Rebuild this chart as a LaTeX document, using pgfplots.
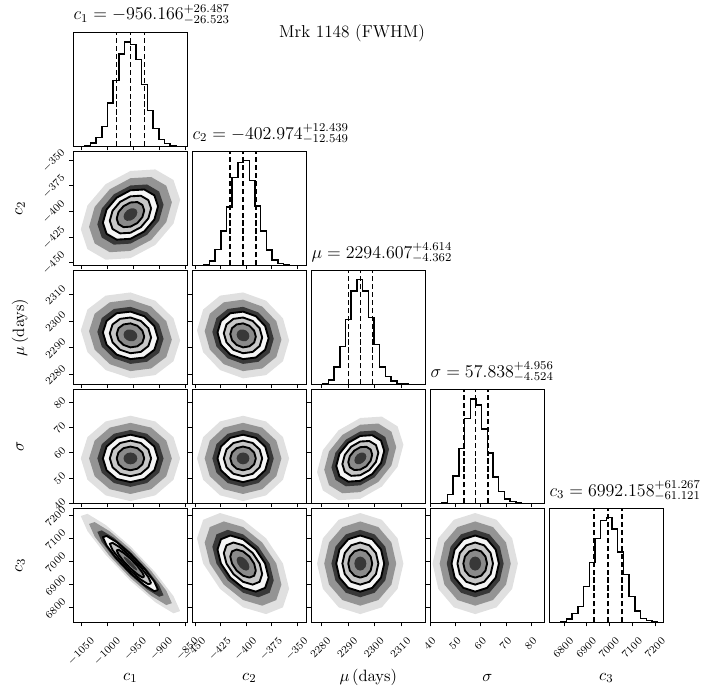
\documentclass[border=0pt]{standalone}
\usepackage{pgfplots}
\usepackage{pgfplotstable}
\pgfplotsset{compat=1.18}

\definecolor{cA}{gray}{0.88}
\definecolor{cB}{gray}{0.58}
\definecolor{cC}{gray}{0.22}
\definecolor{cD}{gray}{0.96}
\definecolor{cE}{gray}{0.78}
\definecolor{cF}{gray}{0.54}
\definecolor{cG}{gray}{0.22}

% ---- 1D histograms (bin edge, height; heights in the panel's own units, top = 333)
\pgfplotstableread{
x y
-1066 0
-1055.05 0
-1044.1 3
-1033.15 10
-1022.2 25
-1011.25 58
-1000.3 127
-989.35 193
-978.4 270
-967.45 305
-956.5 297
-945.55 253
-934.6 180
-923.65 105
-912.7 52
-901.75 20
-890.8 8
-879.85 3
-868.9 0
-857.95 0
-847 0
}\hA
\pgfplotstableread{
x y
-452.6 0
-447.03 0
-441.46 3
-435.89 13
-430.32 47
-424.75 100
-419.18 170
-413.61 257
-408.04 300
-402.47 307
-396.9 247
-391.33 173
-385.76 100
-380.19 45
-374.62 15
-369.05 5
-363.48 2
-357.91 0
-352.34 0
-346.77 0
-341.2 0
}\hB
\pgfplotstableread{
x y
2276.25 0
2278.39 0
2280.53 3
2282.66 13
2284.8 50
2286.94 110
2289.08 190
2291.21 273
2293.35 307
2295.49 273
2297.63 195
2299.76 117
2301.9 50
2304.04 23
2306.18 10
2308.31 3
2310.45 1
2312.59 0
2314.73 0
2316.86 0
2319 0
}\hC
\pgfplotstableread{
x y
40 0
42.26 0
44.52 2
46.78 25
49.04 80
51.3 160
53.56 247
55.82 305
58.08 287
60.34 217
62.6 147
64.86 77
67.12 35
69.38 12
71.64 5
73.9 2
76.16 0
78.42 0
80.68 0
82.94 0
85.2 0
}\hD
\pgfplotstableread{
x y
6736 0
6760.85 0
6785.7 3
6810.55 10
6835.4 25
6860.25 47
6885.1 105
6909.95 175
6934.8 245
6959.65 297
6984.5 307
7009.35 273
7034.2 205
7059.05 140
7083.9 75
7108.75 33
7133.6 12
7158.45 5
7183.3 2
7208.15 0
7233 0
}\hE

% ---- 2D density levels: a,b,c = scatter cloud; d,e,f,g = contour levels
\pgfplotstableread{
xa xb xc xd xe xf xg ya yb yc yd ye yf yg
-860.8 -876.7 -892.6 -903.2 -916.5 -929.7 -943.0 -388.6 -391.0 -393.4 -395.0 -397.0 -399.0 -401.0
-873.6 -887.4 -901.1 -910.3 -921.8 -933.3 -944.7 -369.2 -374.8 -380.5 -384.2 -388.9 -393.6 -398.3
-908.5 -916.5 -924.4 -929.7 -936.3 -942.9 -949.6 -358.9 -366.3 -373.6 -378.5 -384.6 -390.8 -396.9
-956.2 -956.2 -956.2 -956.2 -956.2 -956.2 -956.2 -360.4 -367.5 -374.6 -379.3 -385.2 -391.2 -397.1
-1003.9 -995.9 -988.0 -982.7 -976.1 -969.5 -962.8 -373.3 -378.3 -383.2 -386.5 -390.6 -394.8 -398.9
-1038.8 -1025.0 -1011.3 -1002.1 -990.6 -979.1 -967.7 -394.1 -395.6 -397.1 -398.1 -399.3 -400.5 -401.8
-1051.6 -1035.7 -1019.8 -1009.2 -995.9 -982.7 -969.5 -417.4 -415.0 -412.6 -411.0 -409.0 -407.0 -405.0
-1038.8 -1025.0 -1011.3 -1002.1 -990.6 -979.1 -967.7 -436.8 -431.2 -425.5 -421.8 -417.1 -412.4 -407.7
-1003.9 -995.9 -988.0 -982.7 -976.1 -969.5 -962.8 -447.1 -439.8 -432.4 -427.5 -421.4 -415.3 -409.1
-956.2 -956.2 -956.2 -956.2 -956.2 -956.2 -956.2 -445.6 -438.5 -431.4 -426.7 -420.8 -414.8 -408.9
-908.5 -916.5 -924.4 -929.7 -936.3 -942.9 -949.6 -432.7 -427.8 -422.8 -419.5 -415.4 -411.3 -407.1
-873.6 -887.4 -901.1 -910.3 -921.8 -933.3 -944.7 -411.9 -410.4 -408.9 -407.9 -406.7 -405.5 -404.2
-860.8 -876.7 -892.6 -903.2 -916.5 -929.7 -943.0 -388.6 -391.0 -393.4 -395.0 -397.0 -399.0 -401.0
}\tabBA
\pgfplotstableread{
xa xb xc xd xe xf xg ya yb yc yd ye yf yg
-860.8 -876.7 -892.6 -903.2 -916.5 -929.7 -943.0 2292.7 2293.0 2293.3 2293.5 2293.8 2294.1 2294.3
-873.6 -887.4 -901.1 -910.3 -921.8 -933.3 -944.7 2301.0 2299.9 2298.8 2298.1 2297.3 2296.4 2295.5
-908.5 -916.5 -924.4 -929.7 -936.3 -942.9 -949.6 2307.6 2305.4 2303.2 2301.8 2300.0 2298.2 2296.4
-956.2 -956.2 -956.2 -956.2 -956.2 -956.2 -956.2 2310.7 2308.0 2305.3 2303.5 2301.3 2299.1 2296.8
-1003.9 -995.9 -988.0 -982.7 -976.1 -969.5 -962.8 2309.5 2307.0 2304.5 2302.9 2300.8 2298.7 2296.7
-1038.8 -1025.0 -1011.3 -1002.1 -990.6 -979.1 -967.7 2304.3 2302.7 2301.1 2300.0 2298.7 2297.3 2296.0
-1051.6 -1035.7 -1019.8 -1009.2 -995.9 -982.7 -969.5 2296.5 2296.2 2295.9 2295.7 2295.4 2295.1 2294.9
-1038.8 -1025.0 -1011.3 -1002.1 -990.6 -979.1 -967.7 2288.3 2289.3 2290.4 2291.1 2292.0 2292.8 2293.7
-1003.9 -995.9 -988.0 -982.7 -976.1 -969.5 -962.8 2281.6 2283.8 2286.0 2287.4 2289.2 2291.0 2292.8
-956.2 -956.2 -956.2 -956.2 -956.2 -956.2 -956.2 2278.5 2281.2 2283.9 2285.7 2287.9 2290.1 2292.4
-908.5 -916.5 -924.4 -929.7 -936.3 -942.9 -949.6 2279.7 2282.2 2284.7 2286.3 2288.4 2290.5 2292.5
-873.6 -887.4 -901.1 -910.3 -921.8 -933.3 -944.7 2284.9 2286.5 2288.1 2289.2 2290.6 2291.9 2293.3
-860.8 -876.7 -892.6 -903.2 -916.5 -929.7 -943.0 2292.7 2293.0 2293.3 2293.5 2293.8 2294.1 2294.3
}\tabCA
\pgfplotstableread{
xa xb xc xd xe xf xg ya yb yc yd ye yf yg
-358.0 -365.5 -373.0 -378.0 -384.3 -390.5 -396.8 2292.7 2293.0 2293.3 2293.5 2293.8 2294.1 2294.3
-364.0 -370.5 -377.0 -381.4 -386.8 -392.2 -397.6 2301.0 2299.9 2298.8 2298.1 2297.3 2296.4 2295.5
-380.5 -384.3 -388.0 -390.5 -393.6 -396.8 -399.9 2307.6 2305.4 2303.2 2301.8 2300.0 2298.2 2296.4
-403.0 -403.0 -403.0 -403.0 -403.0 -403.0 -403.0 2310.7 2308.0 2305.3 2303.5 2301.3 2299.1 2296.8
-425.5 -421.8 -418.0 -415.5 -412.4 -409.3 -406.1 2309.5 2307.0 2304.5 2302.9 2300.8 2298.7 2296.7
-442.0 -435.5 -429.0 -424.6 -419.2 -413.8 -408.4 2304.3 2302.7 2301.1 2300.0 2298.7 2297.3 2296.0
-448.0 -440.5 -433.0 -428.0 -421.8 -415.5 -409.3 2296.5 2296.2 2295.9 2295.7 2295.4 2295.1 2294.9
-442.0 -435.5 -429.0 -424.6 -419.2 -413.8 -408.4 2288.3 2289.3 2290.4 2291.1 2292.0 2292.8 2293.7
-425.5 -421.8 -418.0 -415.5 -412.4 -409.3 -406.1 2281.6 2283.8 2286.0 2287.4 2289.2 2291.0 2292.8
-403.0 -403.0 -403.0 -403.0 -403.0 -403.0 -403.0 2278.5 2281.2 2283.9 2285.7 2287.9 2290.1 2292.4
-380.5 -384.3 -388.0 -390.5 -393.6 -396.8 -399.9 2279.7 2282.2 2284.7 2286.3 2288.4 2290.5 2292.5
-364.0 -370.5 -377.0 -381.4 -386.8 -392.2 -397.6 2284.9 2286.5 2288.1 2289.2 2290.6 2291.9 2293.3
-358.0 -365.5 -373.0 -378.0 -384.3 -390.5 -396.8 2292.7 2293.0 2293.3 2293.5 2293.8 2294.1 2294.3
}\tabCB
\pgfplotstableread{
xa xb xc xd xe xf xg ya yb yc yd ye yf yg
-860.8 -876.7 -892.6 -903.2 -916.5 -929.7 -943.0 57.8 57.8 57.8 57.8 57.8 57.8 57.8
-873.6 -887.4 -901.1 -910.3 -921.8 -933.3 -944.7 66.26 64.85 63.44 62.5 61.33 60.15 58.98
-908.5 -916.5 -924.4 -929.7 -936.3 -942.9 -949.6 72.45 70.01 67.57 65.94 63.91 61.87 59.84
-956.2 -956.2 -956.2 -956.2 -956.2 -956.2 -956.2 74.72 71.9 69.08 67.2 64.85 62.5 60.15
-1003.9 -995.9 -988.0 -982.7 -976.1 -969.5 -962.8 72.45 70.01 67.57 65.94 63.91 61.87 59.84
-1038.8 -1025.0 -1011.3 -1002.1 -990.6 -979.1 -967.7 66.26 64.85 63.44 62.5 61.33 60.15 58.98
-1051.6 -1035.7 -1019.8 -1009.2 -995.9 -982.7 -969.5 57.8 57.8 57.8 57.8 57.8 57.8 57.8
-1038.8 -1025.0 -1011.3 -1002.1 -990.6 -979.1 -967.7 49.34 50.75 52.16 53.1 54.28 55.45 56.63
-1003.9 -995.9 -988.0 -982.7 -976.1 -969.5 -962.8 43.15 45.59 48.03 49.66 51.69 53.73 55.76
-956.2 -956.2 -956.2 -956.2 -956.2 -956.2 -956.2 40.88 43.7 46.52 48.4 50.75 53.1 55.45
-908.5 -916.5 -924.4 -929.7 -936.3 -942.9 -949.6 43.15 45.59 48.03 49.66 51.69 53.73 55.76
-873.6 -887.4 -901.1 -910.3 -921.8 -933.3 -944.7 49.34 50.75 52.16 53.1 54.28 55.45 56.63
-860.8 -876.7 -892.6 -903.2 -916.5 -929.7 -943.0 57.8 57.8 57.8 57.8 57.8 57.8 57.8
}\tabDA
\pgfplotstableread{
xa xb xc xd xe xf xg ya yb yc yd ye yf yg
-358.0 -365.5 -373.0 -378.0 -384.3 -390.5 -396.8 57.8 57.8 57.8 57.8 57.8 57.8 57.8
-364.0 -370.5 -377.0 -381.4 -386.8 -392.2 -397.6 66.26 64.85 63.44 62.5 61.33 60.15 58.98
-380.5 -384.3 -388.0 -390.5 -393.6 -396.8 -399.9 72.45 70.01 67.57 65.94 63.91 61.87 59.84
-403.0 -403.0 -403.0 -403.0 -403.0 -403.0 -403.0 74.72 71.9 69.08 67.2 64.85 62.5 60.15
-425.5 -421.8 -418.0 -415.5 -412.4 -409.3 -406.1 72.45 70.01 67.57 65.94 63.91 61.87 59.84
-442.0 -435.5 -429.0 -424.6 -419.2 -413.8 -408.4 66.26 64.85 63.44 62.5 61.33 60.15 58.98
-448.0 -440.5 -433.0 -428.0 -421.8 -415.5 -409.3 57.8 57.8 57.8 57.8 57.8 57.8 57.8
-442.0 -435.5 -429.0 -424.6 -419.2 -413.8 -408.4 49.34 50.75 52.16 53.1 54.28 55.45 56.63
-425.5 -421.8 -418.0 -415.5 -412.4 -409.3 -406.1 43.15 45.59 48.03 49.66 51.69 53.73 55.76
-403.0 -403.0 -403.0 -403.0 -403.0 -403.0 -403.0 40.88 43.7 46.52 48.4 50.75 53.1 55.45
-380.5 -384.3 -388.0 -390.5 -393.6 -396.8 -399.9 43.15 45.59 48.03 49.66 51.69 53.73 55.76
-364.0 -370.5 -377.0 -381.4 -386.8 -392.2 -397.6 49.34 50.75 52.16 53.1 54.28 55.45 56.63
-358.0 -365.5 -373.0 -378.0 -384.3 -390.5 -396.8 57.8 57.8 57.8 57.8 57.8 57.8 57.8
}\tabDB
\pgfplotstableread{
xa xb xc xd xe xf xg ya yb yc yd ye yf yg
2310.8 2308.1 2305.4 2303.6 2301.4 2299.1 2296.9 63.21 62.31 61.41 60.81 60.06 59.3 58.55
2308.6 2306.3 2304.0 2302.4 2300.5 2298.5 2296.6 70.51 68.39 66.27 64.86 63.09 61.33 59.56
2302.7 2301.4 2300.0 2299.1 2298.0 2296.9 2295.7 74.38 71.62 68.85 67.01 64.71 62.41 60.1
2294.6 2294.6 2294.6 2294.6 2294.6 2294.6 2294.6 73.82 71.15 68.48 66.7 64.48 62.25 60.03
2286.5 2287.9 2289.2 2290.1 2291.2 2292.4 2293.5 68.97 67.11 65.24 64.0 62.45 60.9 59.35
2280.6 2282.9 2285.3 2286.8 2288.8 2290.7 2292.7 61.13 60.58 60.02 59.65 59.19 58.73 58.26
2278.4 2281.1 2283.8 2285.6 2287.9 2290.1 2292.4 52.39 53.29 54.19 54.79 55.54 56.3 57.05
2280.6 2282.9 2285.3 2286.8 2288.8 2290.7 2292.7 45.09 47.21 49.33 50.74 52.51 54.27 56.04
2286.5 2287.9 2289.2 2290.1 2291.2 2292.4 2293.5 41.22 43.98 46.75 48.59 50.89 53.19 55.5
2294.6 2294.6 2294.6 2294.6 2294.6 2294.6 2294.6 41.78 44.45 47.12 48.9 51.12 53.35 55.57
2302.7 2301.4 2300.0 2299.1 2298.0 2296.9 2295.7 46.63 48.49 50.36 51.6 53.15 54.7 56.25
2308.6 2306.3 2304.0 2302.4 2300.5 2298.5 2296.6 54.47 55.02 55.58 55.95 56.41 56.87 57.34
2310.8 2308.1 2305.4 2303.6 2301.4 2299.1 2296.9 63.21 62.31 61.41 60.81 60.06 59.3 58.55
}\tabDC
\pgfplotstableread{
xa xb xc xd xe xf xg ya yb yc yd ye yf yg
-860.8 -876.7 -892.6 -903.2 -916.5 -929.7 -943.0 6785.1 6819.6 6854.1 6877.1 6905.9 6934.7 6963.4
-873.6 -887.4 -901.1 -910.3 -921.8 -933.3 -944.7 6850.5 6874.1 6897.7 6913.5 6933.2 6952.8 6972.5
-908.5 -916.5 -924.4 -929.7 -936.3 -942.9 -949.6 6953.6 6960.1 6966.5 6970.8 6976.1 6981.5 6986.8
-956.2 -956.2 -956.2 -956.2 -956.2 -956.2 -956.2 7067.3 7054.8 7042.3 7033.9 7023.5 7013.1 7002.6
-1003.9 -995.9 -988.0 -982.7 -976.1 -969.5 -962.8 7160.7 7132.7 7104.6 7085.8 7062.4 7039.0 7015.6
-1038.8 -1025.0 -1011.3 -1002.1 -990.6 -979.1 -967.7 7209.2 7173.0 7136.9 7112.8 7082.6 7052.5 7022.3
-1051.6 -1035.7 -1019.8 -1009.2 -995.9 -982.7 -969.5 7199.3 7164.8 7130.3 7107.3 7078.5 7049.7 7021.0
-1038.8 -1025.0 -1011.3 -1002.1 -990.6 -979.1 -967.7 7133.9 7110.3 7086.7 7070.9 7051.2 7031.6 7011.9
-1003.9 -995.9 -988.0 -982.7 -976.1 -969.5 -962.8 7030.8 7024.3 7017.9 7013.6 7008.3 7002.9 6997.6
-956.2 -956.2 -956.2 -956.2 -956.2 -956.2 -956.2 6917.1 6929.6 6942.1 6950.5 6960.9 6971.3 6981.8
-908.5 -916.5 -924.4 -929.7 -936.3 -942.9 -949.6 6823.7 6851.7 6879.8 6898.6 6922.0 6945.4 6968.8
-873.6 -887.4 -901.1 -910.3 -921.8 -933.3 -944.7 6775.2 6811.4 6847.5 6871.6 6901.8 6931.9 6962.1
-860.8 -876.7 -892.6 -903.2 -916.5 -929.7 -943.0 6785.1 6819.6 6854.1 6877.1 6905.9 6934.7 6963.4
}\tabEA
\pgfplotstableread{
xa xb xc xd xe xf xg ya yb yc yd ye yf yg
-358.0 -365.5 -373.0 -378.0 -384.3 -390.5 -396.8 6882.0 6900.4 6918.8 6931.0 6946.3 6961.6 6976.9
-364.0 -370.5 -377.0 -381.4 -386.8 -392.2 -397.6 6992.2 6992.2 6992.2 6992.2 6992.2 6992.2 6992.2
-380.5 -384.3 -388.0 -390.5 -393.6 -396.8 -399.9 7102.4 7084.0 7065.6 7053.4 7038.1 7022.8 7007.5
-403.0 -403.0 -403.0 -403.0 -403.0 -403.0 -403.0 7183.0 7151.2 7119.4 7098.2 7071.7 7045.2 7018.7
-425.5 -421.8 -418.0 -415.5 -412.4 -409.3 -406.1 7212.5 7175.8 7139.1 7114.6 7084.0 7053.4 7022.8
-442.0 -435.5 -429.0 -424.6 -419.2 -413.8 -408.4 7183.0 7151.2 7119.4 7098.2 7071.7 7045.2 7018.7
-448.0 -440.5 -433.0 -428.0 -421.8 -415.5 -409.3 7102.4 7084.0 7065.6 7053.4 7038.1 7022.8 7007.5
-442.0 -435.5 -429.0 -424.6 -419.2 -413.8 -408.4 6992.2 6992.2 6992.2 6992.2 6992.2 6992.2 6992.2
-425.5 -421.8 -418.0 -415.5 -412.4 -409.3 -406.1 6882.0 6900.4 6918.8 6931.0 6946.3 6961.6 6976.9
-403.0 -403.0 -403.0 -403.0 -403.0 -403.0 -403.0 6801.4 6833.2 6865.0 6886.2 6912.7 6939.2 6965.7
-380.5 -384.3 -388.0 -390.5 -393.6 -396.8 -399.9 6771.9 6808.6 6845.3 6869.8 6900.4 6931.0 6961.6
-364.0 -370.5 -377.0 -381.4 -386.8 -392.2 -397.6 6801.4 6833.2 6865.0 6886.2 6912.7 6939.2 6965.7
-358.0 -365.5 -373.0 -378.0 -384.3 -390.5 -396.8 6882.0 6900.4 6918.8 6931.0 6946.3 6961.6 6976.9
}\tabEB
\pgfplotstableread{
xa xb xc xd xe xf xg ya yb yc yd ye yf yg
2310.8 2308.1 2305.4 2303.6 2301.4 2299.1 2296.9 6992.2 6992.2 6992.2 6992.2 6992.2 6992.2 6992.2
2308.6 2306.3 2304.0 2302.4 2300.5 2298.5 2296.6 7102.4 7084.0 7065.6 7053.4 7038.1 7022.8 7007.5
2302.7 2301.4 2300.0 2299.1 2298.0 2296.9 2295.7 7183.0 7151.2 7119.4 7098.2 7071.7 7045.2 7018.7
2294.6 2294.6 2294.6 2294.6 2294.6 2294.6 2294.6 7212.5 7175.8 7139.1 7114.6 7084.0 7053.4 7022.8
2286.5 2287.9 2289.2 2290.1 2291.2 2292.4 2293.5 7183.0 7151.2 7119.4 7098.2 7071.7 7045.2 7018.7
2280.6 2282.9 2285.3 2286.8 2288.8 2290.7 2292.7 7102.4 7084.0 7065.6 7053.4 7038.1 7022.8 7007.5
2278.4 2281.1 2283.8 2285.6 2287.9 2290.1 2292.4 6992.2 6992.2 6992.2 6992.2 6992.2 6992.2 6992.2
2280.6 2282.9 2285.3 2286.8 2288.8 2290.7 2292.7 6882.0 6900.4 6918.8 6931.0 6946.3 6961.6 6976.9
2286.5 2287.9 2289.2 2290.1 2291.2 2292.4 2293.5 6801.4 6833.2 6865.0 6886.2 6912.7 6939.2 6965.7
2294.6 2294.6 2294.6 2294.6 2294.6 2294.6 2294.6 6771.9 6808.6 6845.3 6869.8 6900.4 6931.0 6961.6
2302.7 2301.4 2300.0 2299.1 2298.0 2296.9 2295.7 6801.4 6833.2 6865.0 6886.2 6912.7 6939.2 6965.7
2308.6 2306.3 2304.0 2302.4 2300.5 2298.5 2296.6 6882.0 6900.4 6918.8 6931.0 6946.3 6961.6 6976.9
2310.8 2308.1 2305.4 2303.6 2301.4 2299.1 2296.9 6992.2 6992.2 6992.2 6992.2 6992.2 6992.2 6992.2
}\tabEC
\pgfplotstableread{
xa xb xc xd xe xf xg ya yb yc yd ye yf yg
74.72 71.9 69.08 67.2 64.85 62.5 60.15 6992.2 6992.2 6992.2 6992.2 6992.2 6992.2 6992.2
72.45 70.01 67.57 65.94 63.91 61.87 59.84 7102.4 7084.0 7065.6 7053.4 7038.1 7022.8 7007.5
66.26 64.85 63.44 62.5 61.33 60.15 58.98 7183.0 7151.2 7119.4 7098.2 7071.7 7045.2 7018.7
57.8 57.8 57.8 57.8 57.8 57.8 57.8 7212.5 7175.8 7139.1 7114.6 7084.0 7053.4 7022.8
49.34 50.75 52.16 53.1 54.28 55.45 56.63 7183.0 7151.2 7119.4 7098.2 7071.7 7045.2 7018.7
43.15 45.59 48.03 49.66 51.69 53.73 55.76 7102.4 7084.0 7065.6 7053.4 7038.1 7022.8 7007.5
40.88 43.7 46.52 48.4 50.75 53.1 55.45 6992.2 6992.2 6992.2 6992.2 6992.2 6992.2 6992.2
43.15 45.59 48.03 49.66 51.69 53.73 55.76 6882.0 6900.4 6918.8 6931.0 6946.3 6961.6 6976.9
49.34 50.75 52.16 53.1 54.28 55.45 56.63 6801.4 6833.2 6865.0 6886.2 6912.7 6939.2 6965.7
57.8 57.8 57.8 57.8 57.8 57.8 57.8 6771.9 6808.6 6845.3 6869.8 6900.4 6931.0 6961.6
66.26 64.85 63.44 62.5 61.33 60.15 58.98 6801.4 6833.2 6865.0 6886.2 6912.7 6939.2 6965.7
72.45 70.01 67.57 65.94 63.91 61.87 59.84 6882.0 6900.4 6918.8 6931.0 6946.3 6961.6 6976.9
74.72 71.9 69.08 67.2 64.85 62.5 60.15 6992.2 6992.2 6992.2 6992.2 6992.2 6992.2 6992.2
}\tabED

\newcommand\density[1]{%
  \addplot[draw=none, fill=cA] table[x=xa, y=ya] {#1};
  \addplot[draw=none, fill=cB] table[x=xb, y=yb] {#1};
  \addplot[draw=none, fill=cC] table[x=xc, y=yc] {#1};
  \addplot[cline, fill=cD] table[x=xd, y=yd] {#1};
  \addplot[cline, fill=cE] table[x=xe, y=ye] {#1};
  \addplot[cline, fill=cF] table[x=xf, y=yf] {#1};
  \addplot[draw=none, fill=cG] table[x=xg, y=yg] {#1};
}
\newcommand\hist[4]{%
  \addplot[black, line width=0.95pt, const plot] table {#1};
  \addplot[qline] coordinates {(#2,0) (#2,333)};
  \addplot[qline] coordinates {(#3,0) (#3,333)};
  \addplot[qline] coordinates {(#4,0) (#4,333)};
}

\pgfplotsset{
  cline/.style={black, line width=1.25pt, line join=round},
  qline/.style={black, line width=1pt, dash pattern=on 3.4pt off 1.9pt},
  panel/.style={
    scale only axis, width=76pt, height=76pt, anchor=north west,
    axis line style={line width=0.8pt},
    tick align=outside, major tick length=2.7pt,
    tick style={black, line width=0.6pt},
    xtick pos=left, ytick pos=left,
    xticklabels={}, yticklabels={},
    tick label style={font=\fontsize{7.5}{8.5}\selectfont},
    xlabel style={at={(0.5,-0.487)}, anchor=center, font=\fontsize{11}{13}\selectfont},
    ylabel style={at={(-0.467,0.5)}, anchor=center, font=\fontsize{11}{13}\selectfont},
    title style={at={(0,1)}, anchor=base west, yshift=2.2pt, inner sep=0pt,
      font=\fontsize{11.5}{13}\selectfont},
  },
  hist/.style={ymin=0, ymax=333, ytick=\empty},
  vA x/.style={xmin=-1066, xmax=-847, xtick={-1050,-1000,-950,-900,-850}},
  vB x/.style={xmin=-452.6, xmax=-341.2, xtick={-450,-425,-400,-375,-350}},
  vC x/.style={xmin=2276.25, xmax=2319, xtick={2280,2290,2300,2310}},
  vD x/.style={xmin=40, xmax=85.2, xtick={40,50,60,70,80}},
  vE x/.style={xmin=6736, xmax=7233, xtick={6800,6900,7000,7100,7200}},
  vB y/.style={ymin=-452.6, ymax=-341.2, ytick={-450,-425,-400,-375,-350}},
  vC y/.style={ymin=2276.25, ymax=2319, ytick={2280,2290,2300,2310}},
  vD y/.style={ymin=40, ymax=85.2, ytick={40,50,60,70,80}},
  vE y/.style={ymin=6736, ymax=7233, ytick={6800,6900,7000,7100,7200}},
  lA x/.style={xlabel={$c_1$}, xticklabels={$-1050$,$-1000$,$-950$,$-900$,$-850$},
    xticklabel style={xshift=5.6pt, yshift=-6pt, rotate=45, anchor=north east, inner sep=0.5pt}},
  lB x/.style={xlabel={$c_2$}, xticklabels={$-450$,$-425$,$-400$,$-375$,$-350$},
    xticklabel style={xshift=4.2pt, yshift=-6pt, rotate=45, anchor=north east, inner sep=0.5pt}},
  lC x/.style={xlabel={$\mu\,(\mathrm{days})$}, xticklabels={$2280$,$2290$,$2300$,$2310$},
    xticklabel style={xshift=3.5pt, yshift=-6pt, rotate=45, anchor=north east, inner sep=0.5pt}},
  lD x/.style={xlabel={$\sigma$}, xticklabels={$40$,$50$,$60$,$70$,$80$},
    xticklabel style={xshift=0.9pt, yshift=-6pt, rotate=45, anchor=north east, inner sep=0.5pt}},
  lE x/.style={xlabel={$c_3$}, xticklabels={$6800$,$6900$,$7000$,$7100$,$7200$},
    xticklabel style={xshift=3.5pt, yshift=-6pt, rotate=45, anchor=north east, inner sep=0.5pt}},
  lB y/.style={ylabel={$c_2$}, yticklabels={$-450$,$-425$,$-400$,$-375$,$-350$},
    yticklabel style={yshift=4.2pt, xshift=-1pt, rotate=45, anchor=south east, inner sep=0.5pt}},
  lC y/.style={ylabel={$\mu\,(\mathrm{days})$}, yticklabels={$2280$,$2290$,$2300$,$2310$},
    yticklabel style={yshift=3.5pt, xshift=-1pt, rotate=45, anchor=south east, inner sep=0.5pt}},
  lD y/.style={ylabel={$\sigma$}, yticklabels={$40$,$50$,$60$,$70$,$80$},
    yticklabel style={yshift=0.9pt, xshift=-1pt, rotate=45, anchor=south east, inner sep=0.5pt}},
  lE y/.style={ylabel={$c_3$}, yticklabels={$6800$,$6900$,$7000$,$7100$,$7200$},
    yticklabel style={yshift=3.5pt, xshift=-1pt, rotate=45, anchor=south east, inner sep=0.5pt}},
}

\begin{document}
\begin{tikzpicture}
% row 1
\begin{axis}[panel, at={(48.87pt,-21.53pt)}, vA x, hist,
  title={$c_1 = -956.166^{+26.487}_{-26.523}$}]
  \hist{\hA}{-982.689}{-956.166}{-929.679}
\end{axis}
% row 2
\begin{axis}[panel, at={(48.87pt,-100.87pt)}, vA x, vB y, lB y]
  \density{\tabBA}
\end{axis}
\begin{axis}[panel, at={(128.2pt,-100.87pt)}, vB x, hist,
  title={$c_2 = -402.974^{+12.439}_{-12.549}$}]
  \hist{\hB}{-415.523}{-402.974}{-390.535}
\end{axis}
% row 3
\begin{axis}[panel, at={(48.87pt,-180.2pt)}, vA x, vC y, lC y]
  \density{\tabCA}
\end{axis}
\begin{axis}[panel, at={(128.2pt,-180.2pt)}, vB x, vC y]
  \density{\tabCB}
\end{axis}
\begin{axis}[panel, at={(207.53pt,-180.2pt)}, vC x, hist,
  title={$\mu = 2294.607^{+4.614}_{-4.362}$}]
  \hist{\hC}{2290.245}{2294.607}{2299.221}
\end{axis}
% row 4
\begin{axis}[panel, at={(48.87pt,-259.53pt)}, vA x, vD y, lD y]
  \density{\tabDA}
\end{axis}
\begin{axis}[panel, at={(128.2pt,-259.53pt)}, vB x, vD y]
  \density{\tabDB}
\end{axis}
\begin{axis}[panel, at={(207.53pt,-259.53pt)}, vC x, vD y]
  \density{\tabDC}
\end{axis}
\begin{axis}[panel, at={(286.87pt,-259.53pt)}, vD x, hist,
  title={$\sigma = 57.838^{+4.956}_{-4.524}$}]
  \hist{\hD}{53.314}{57.838}{62.794}
\end{axis}
% row 5
\begin{axis}[panel, at={(48.87pt,-338.87pt)}, vA x, vE y, lE y, lA x]
  \density{\tabEA}
\end{axis}
\begin{axis}[panel, at={(128.2pt,-338.87pt)}, vB x, vE y, lB x]
  \density{\tabEB}
\end{axis}
\begin{axis}[panel, at={(207.53pt,-338.87pt)}, vC x, vE y, lC x]
  \density{\tabEC}
\end{axis}
\begin{axis}[panel, at={(286.87pt,-338.87pt)}, vD x, vE y, lD x]
  \density{\tabED}
\end{axis}
\begin{axis}[panel, at={(366.2pt,-338.87pt)}, vE x, hist, lE x,
  title={$c_3 = 6992.158^{+61.267}_{-61.121}$}]
  \hist{\hE}{6931.037}{6992.158}{7053.425}
\end{axis}

\node[anchor=base, font=\fontsize{11.5}{13}\selectfont] at (234.7pt,-24.7pt) {Mrk 1148 (FWHM)};

\pgfresetboundingbox
\path (0pt,0pt) rectangle (473.33pt,-464pt);
\end{tikzpicture}
\end{document}
